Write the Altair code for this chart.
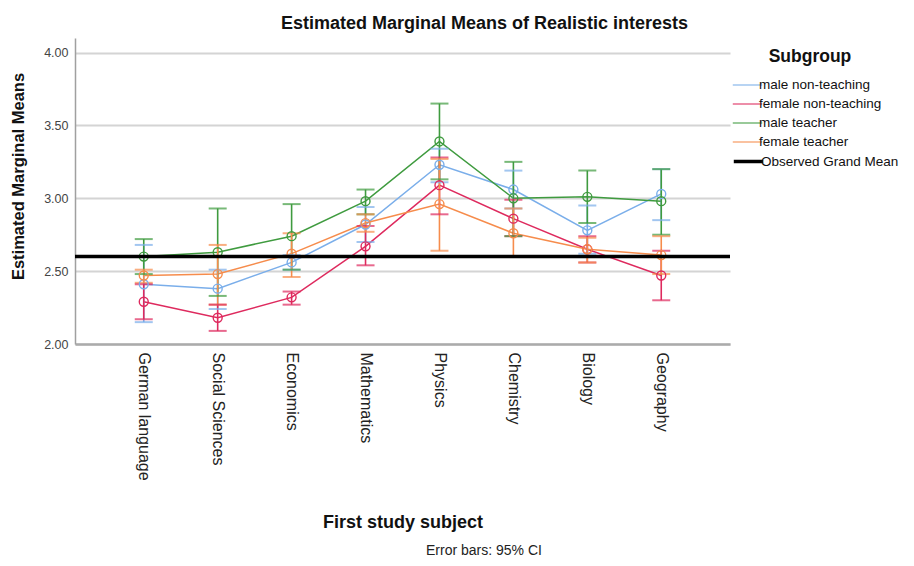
import altair as alt
import pandas as pd

subjects = ["German language", "Social Sciences", "Economics", "Mathematics",
            "Physics", "Chemistry", "Biology", "Geography"]
groups = ["male non-teaching", "female non-teaching", "male teacher", "female teacher"]
grand_label = "Observed Grand Mean"
grand_mean = 2.60

mean_male_nt = [2.41, 2.38, 2.56, 2.82, 3.23, 3.06, 2.78, 3.03]
lo_male_nt = [2.15, 2.24, 2.51, 2.70, 3.11, 2.93, 2.62, 2.85]
hi_male_nt = [2.68, 2.51, 2.61, 2.94, 3.34, 3.19, 2.95, 3.20]

mean_female_nt = [2.29, 2.18, 2.32, 2.67, 3.09, 2.86, 2.65, 2.47]
lo_female_nt = [2.17, 2.09, 2.27, 2.54, 2.89, 2.74, 2.56, 2.30]
hi_female_nt = [2.41, 2.27, 2.36, 2.81, 3.28, 2.99, 2.74, 2.64]

mean_male_t = [2.60, 2.63, 2.74, 2.98, 3.39, 3.00, 3.01, 2.98]
lo_male_t = [2.48, 2.33, 2.51, 2.89, 3.13, 2.74, 2.83, 2.75]
hi_male_t = [2.72, 2.93, 2.96, 3.06, 3.65, 3.25, 3.19, 3.20]

mean_female_t = [2.47, 2.48, 2.62, 2.83, 2.96, 2.76, 2.65, 2.61]
lo_female_t = [2.42, 2.27, 2.46, 2.77, 2.64, 2.60, 2.56, 2.48]
hi_female_t = [2.51, 2.68, 2.76, 2.89, 3.27, 2.93, 2.73, 2.74]

colors = ["#7aaeea", "#de2a5e", "#3f9b3f", "#f68c4c"]
grand_color = "#000000"
caption = "Error bars: 95% CI"

series = [
    (groups[0], mean_male_nt, lo_male_nt, hi_male_nt),
    (groups[1], mean_female_nt, lo_female_nt, hi_female_nt),
    (groups[2], mean_male_t, lo_male_t, hi_male_t),
    (groups[3], mean_female_t, lo_female_t, hi_female_t),
]
rows = []
for g, m, lo, hi in series:
    for s, mv, lv, hv in zip(subjects, m, lo, hi):
        rows.append({"subject": s, "group": g, "mean": mv, "lo": lv, "hi": hv})
df = pd.DataFrame(rows)
gm_df = pd.DataFrame({"group": [grand_label], "value": [grand_mean]})
cap_df = pd.DataFrame({"text": [caption]})

FONT = "Liberation Sans"

x_enc = alt.X("subject:N", sort=subjects,
              scale=alt.Scale(type="point", padding=0.93),
              axis=alt.Axis(title="First study subject", labelAngle=90,
                            labelFontSize=16, labelColor="#222222",
                            labelPadding=8, ticks=False, domainColor="#ababab",
                            domainWidth=2.5, titleFontSize=18,
                            titleFontWeight="bold", titleColor="#111111",
                            titleY=169, titleBaseline="top", labelFont=FONT,
                            titleFont=FONT))
y_scale = alt.Scale(domain=[2.0, 4.1], nice=False, zero=False)
y_axis = alt.Axis(title="Estimated Marginal Means", values=[2.0, 2.5, 3.0, 3.5, 4.0],
                  format=".2f", labelFontSize=12.5, labelColor="#444444",
                  ticks=False, labelPadding=7, domainColor="#a0a0a0",
                  domainWidth=1.5, gridColor="#d4d4d4", gridWidth=1.8,
                  titleFontSize=16.5, titleFontWeight="bold", titleColor="#111111",
                  titleX=-49, titleY=138, labelFont=FONT, titleFont=FONT)

legend_common = dict(
    orient="none", legendX=663, titleFont=FONT,
    labelFontSize=13.5, labelColor="#111111", labelFont=FONT,
    labelOffset=2, symbolType="M-1.7,0H1.7", symbolSize=300,
    rowPadding=3, padding=0, labelLimit=300,
)

color_enc = alt.Color(
    "group:N",
    scale=alt.Scale(domain=groups, range=colors),
    legend=alt.Legend(
        title="Subgroup", legendY=10,
        titleFontSize=17.5, titleFontWeight="bold", titleColor="#111111",
        titleAnchor="middle", titlePadding=10, symbolStrokeWidth=1.5,
        **legend_common),
)
grand_color_enc = alt.Color(
    "group:N",
    scale=alt.Scale(domain=[grand_label], range=[grand_color]),
    legend=alt.Legend(title=None, legendY=113, symbolStrokeWidth=3.5,
                      **legend_common),
)

base = alt.Chart(df)
lines = base.mark_line(strokeWidth=1.5).encode(
    x=x_enc, y=alt.Y("mean:Q", scale=y_scale, axis=y_axis), color=color_enc)
bars = base.mark_rule(strokeWidth=1.6).encode(
    x=alt.X("subject:N", sort=subjects), y="lo:Q", y2="hi:Q", color=color_enc)
caps_lo = base.mark_tick(size=18, thickness=2).encode(
    x=alt.X("subject:N", sort=subjects), y="lo:Q", color=color_enc)
caps_hi = base.mark_tick(size=18, thickness=2).encode(
    x=alt.X("subject:N", sort=subjects), y="hi:Q", color=color_enc)
points = base.mark_point(filled=False, size=80, strokeWidth=1.4, opacity=1).encode(
    x=alt.X("subject:N", sort=subjects), y="mean:Q", color=color_enc)
groups_layer = alt.layer(lines, bars, caps_lo, caps_hi, points)

grand = alt.Chart(gm_df).mark_rule(strokeWidth=3.5).encode(
    y="value:Q", color=grand_color_enc)
cap_text = alt.Chart(cap_df).mark_text(
    fontSize=14, font=FONT, color="#222222",
    align="center", baseline="middle").encode(
    text="text:N", x=alt.value(409), y=alt.value(513))

chart = alt.layer(groups_layer, grand, cap_text).resolve_scale(
    color="independent"
).properties(
    width=655, height=306,
    autosize=alt.AutoSizeParams(type="none"),
    padding={"left": 67, "top": 30, "right": 176, "bottom": 214},
    title=alt.TitleParams("Estimated Marginal Means of Realistic interests",
                          fontSize=18, fontWeight="bold", color="#111111",
                          font=FONT, anchor="middle", dx=82, offset=5),
).configure_view(stroke=None).configure_axisX(grid=False)

chart.save("out.html", embed_options={"renderer": "svg", "actions": False})
